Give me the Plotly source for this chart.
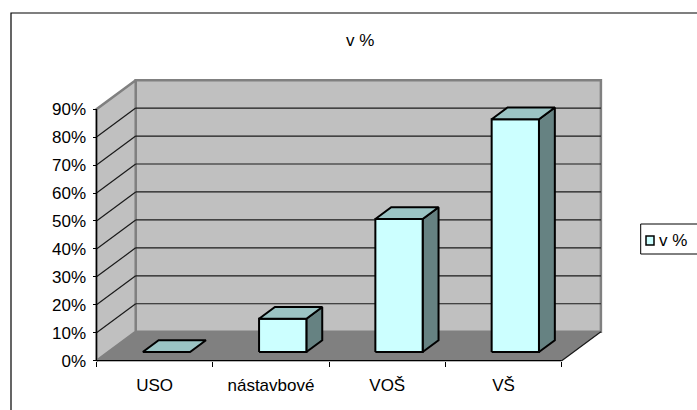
import plotly.graph_objects as go

# ---------------- data ----------------
categories = ["USO", "nástavbové", "VOŠ", "VŠ"]
values = [0.0, 11.9, 47.6, 83.3]          # percent
y_tick_values = [0, 10, 20, 30, 40, 50, 60, 70, 80, 90]
y_tick_labels = ["0%", "10%", "20%", "30%", "40%", "50%", "60%", "70%", "80%", "90%"]
series_name = "v %"
chart_title = "v %"

# ---------------- layout constants (pixels) ----------------
W, H = 697, 410
PL, PR, PT, PB = 90, 606, 77, 364          # plot area box
AX0_X, AX1_X, AX_Y0 = 96.5, 561.7, 360.7   # front axes
Y_PX_PER_UNIT = 27.95 / 10.0
X_PX_PER_UNIT = (AX1_X - AX0_X) / len(categories)
DEPTH_PX_X, DEPTH_PX_Y = 39.2, 29.0
DX = DEPTH_PX_X / X_PX_PER_UNIT
DY = DEPTH_PX_Y / Y_PX_PER_UNIT
YMAX = 90.0
F0, F1 = 0.30, 0.705    # bar depth fractions
BW = 47.3 / X_PX_PER_UNIT

n = len(categories)
x_lo = -0.5 - (AX0_X - PL) / X_PX_PER_UNIT
x_hi = n - 0.5 + (PR - AX1_X) / X_PX_PER_UNIT
y_lo = -(PB - AX_Y0) / Y_PX_PER_UNIT
y_hi = (AX_Y0 - PT) / Y_PX_PER_UNIT


def paper_x(px):
    return (px - PL) / (PR - PL)


def paper_y(py):
    return (PB - py) / (PB - PT)


FONT = "Arial, Liberation Sans, sans-serif"
WALL = "#C0C0C0"
FLOOR = "#808080"
EDGE = "#808080"
FRONT = "#CCFFFF"
TOP = "#9BC4C4"
SIDE = "#668282"

fig = go.Figure()


def poly(xs, ys, fill, line_color, width):
    fig.add_trace(go.Scatter(
        x=list(xs) + [xs[0]], y=list(ys) + [ys[0]], mode="lines",
        fill="toself", fillcolor=fill,
        line=dict(color=line_color, width=width),
        hoverinfo="skip", showlegend=False))


def segs(seglist, color, width):
    xs, ys = [], []
    for (x0, y0, x1, y1) in seglist:
        xs += [x0, x1, None]
        ys += [y0, y1, None]
    fig.add_trace(go.Scatter(x=xs, y=ys, mode="lines",
                             line=dict(color=color, width=width),
                             hoverinfo="skip", showlegend=False))


L, R = -0.5, n - 0.5
# back wall
poly([L + DX, R + DX, R + DX, L + DX], [DY, DY, YMAX + DY, YMAX + DY], WALL, EDGE, 2.5)
# left wall
poly([L, L + DX, L + DX, L], [0, DY, YMAX + DY, YMAX], WALL, EDGE, 2.5)
# gridlines
grid = []
for v in y_tick_values[1:-1]:
    grid.append((L + DX, v + DY, R + DX, v + DY))
    grid.append((L, v, L + DX, v + DY))
segs(grid, "#1a1a1a", 1.2)
# floor
poly([L, R, R + DX, L + DX], [0, 0, DY, DY], FLOOR, FLOOR, 0.5)
segs([(R, 0, R + DX, DY)], "#1a1a1a", 1.2)
# front axes lines
segs([(L, 0, R, 0), (L, 0, L, YMAX)], "#000000", 1.2)

# bars
dd = F1 - F0
for i, v in enumerate(values):
    xl = i - BW / 2 + F0 * DX
    xr = i + BW / 2 + F0 * DX
    b = F0 * DY
    t = b + v
    ox, oy = dd * DX, dd * DY
    if v > 0:
        poly([xr, xr + ox, xr + ox, xr], [b, b + oy, t + oy, t], SIDE, "#000000", 2)
        poly([xl, xr, xr, xl], [b, b, t, t], FRONT, "#000000", 2)
    poly([xl, xr, xr + ox, xl + ox], [t, t, t + oy, t + oy], TOP, "#000000", 2)

fig.update_layout(
    width=W, height=H,
    margin=dict(l=PL, r=W - PR, t=PT, b=H - PB, autoexpand=False),
    paper_bgcolor="white", plot_bgcolor="rgba(0,0,0,0)",
    showlegend=False, hovermode=False,
    font=dict(family=FONT, size=17, color="#000000"),
    xaxis=dict(range=[x_lo, x_hi], anchor="free",
               position=paper_y(AX_Y0),
               tickmode="array", tickvals=list(range(n)), ticktext=categories,
               ticks="outside", ticklen=5, tickcolor="rgba(0,0,0,0)",
               ticklabelstandoff=4,
               minor=dict(tickmode="array",
                          tickvals=[k - 0.5 for k in range(n + 1)],
                          ticks="outside", ticklen=5, tickcolor="#000000",
                          tickwidth=1, showgrid=False),
               showgrid=False, zeroline=False, showline=False,
               tickfont=dict(family=FONT, size=17)),
    yaxis=dict(range=[y_lo, y_hi], anchor="free",
               position=paper_x(AX0_X),
               tickmode="array", tickvals=y_tick_values, ticktext=y_tick_labels,
               ticks="outside", ticklen=4, tickcolor="#000000", tickwidth=1,
               ticklabelstandoff=3,
               showgrid=False, zeroline=False, showline=False,
               tickfont=dict(family=FONT, size=17)),
)

# outer chart border
fig.add_shape(type="rect", xref="paper", yref="paper",
              x0=paper_x(11), x1=paper_x(720), y0=paper_y(430), y1=paper_y(13),
              line=dict(color="#000000", width=1.2), fillcolor="rgba(0,0,0,0)",
              layer="above")
# legend box
fig.add_shape(type="rect", xref="paper", yref="paper",
              x0=paper_x(640.7), x1=paper_x(720), y0=paper_y(254), y1=paper_y(224),
              line=dict(color="#000000", width=1), fillcolor="white")
fig.add_shape(type="rect", xref="paper", yref="paper",
              x0=paper_x(646), x1=paper_x(654), y0=paper_y(245), y1=paper_y(236),
              line=dict(color="#000000", width=1.5), fillcolor=FRONT)
fig.add_annotation(text=series_name, xref="paper", yref="paper",
                   x=paper_x(657), y=paper_y(240), xanchor="left", yanchor="middle",
                   showarrow=False, font=dict(family=FONT, size=17))
# title
fig.add_annotation(text=chart_title, xref="paper", yref="paper",
                   x=paper_x(360), y=paper_y(41), xanchor="center", yanchor="middle",
                   showarrow=False, font=dict(family=FONT, size=17))

fig.write_html("out.html", config={"displayModeBar": False})
